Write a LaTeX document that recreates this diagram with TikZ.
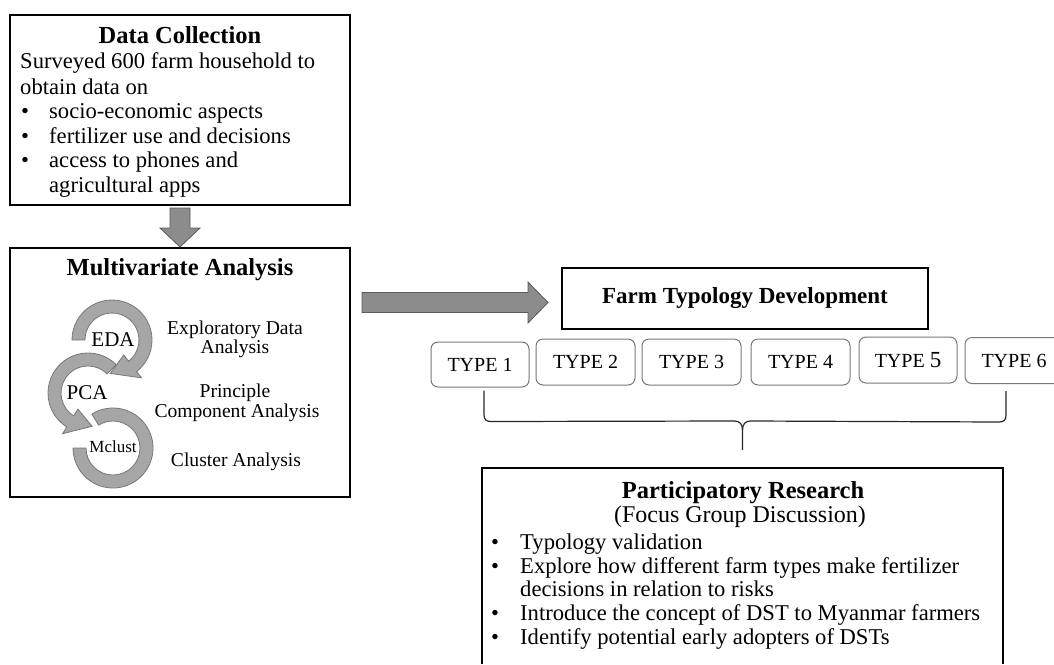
\documentclass[tikz,border=0pt]{standalone}
\usepackage{fontspec}
\setmainfont{Liberation Serif}
\newfontfamily\timesf{Liberation Serif}
\usetikzlibrary{calc}
\definecolor{ringfill}{RGB}{166,166,166}
\definecolor{ringedge}{RGB}{120,120,120}
\definecolor{arrfill}{RGB}{140,140,140}
\definecolor{arredge}{RGB}{90,90,90}
\definecolor{typeedge}{RGB}{120,120,120}
\begin{document}
\begin{tikzpicture}[x=1pt,y=1pt,
  box/.style={draw=black, line width=1.3pt, inner sep=0pt, outer sep=0pt},
  body/.style={font=\fontsize{22.6}{25}\selectfont, inner sep=0pt, anchor=base west},
  bul/.style={font=\fontsize{22.6}{25}\selectfont, inner sep=0pt, anchor=base},
  ttl/.style={font=\bfseries\fontsize{24.5}{26}\selectfont, inner sep=0pt, anchor=base},
  lbl/.style={font=\fontsize{19.6}{21}\selectfont, inner sep=0pt, anchor=base},
  ringtxt/.style={font=\fontsize{21}{23}\selectfont, inner sep=0pt},
  ring/.style={fill=ringfill, draw=ringedge, line width=0.8pt, line join=miter},
  blockarrow/.style={fill=arrfill, draw=arredge, line width=0.8pt},
  typebox/.style={draw=typeedge, rounded corners=7pt, line width=1pt, minimum width=98pt, minimum height=45pt, inner sep=0pt, font=\timesf\fontsize{20}{22}\selectfont},
  brace/.style={draw=black!85, line width=1.2pt}
]
\useasboundingbox (0,0) rectangle (1054,-664);
\clip (0,0) rectangle (1054,-664);

% ---------- Data Collection ----------
\node[box, minimum width=340pt, minimum height=190pt] (dc) at (180,-110) {};
\node[ttl] (dct) at (180,-43) {Data Collection};
\node[body] (dc1) at (20,-68) {Surveyed 600 farm household to};
\node[body] (dc2) at (20,-94) {obtain data on};
\node[bul] (db1) at (25,-118) {\textbullet};
\node[body] (dc3) at (49,-118) {socio-economic aspects};
\node[bul] (db2) at (25,-143) {\textbullet};
\node[body] (dc4) at (49,-143) {fertilizer use and decisions};
\node[bul] (db3) at (25,-167) {\textbullet};
\node[body] (dc5) at (49,-167) {access to phones and};
\node[body] (dc6) at (49,-192) {agricultural apps};

% ---------- Multivariate Analysis ----------
\node[box, minimum width=340pt, minimum height=249pt] (mv) at (180,-372.5) {};
\node[ttl] (mvt) at (180,-275) {Multivariate Analysis};
\node[lbl] (l1) at (235,-334) {Exploratory Data};
\node[lbl] (l2) at (235,-353) {Analysis};
\node[lbl] (l3) at (235,-397) {Principle};
\node[lbl] (l4) at (237,-417) {Component Analysis};
\node[lbl] (l5) at (236,-466) {Cluster Analysis};

% rings
\coordinate (cE) at (112,-340);
\coordinate (cP) at (88,-393);
\coordinate (cM) at (113,-448);
\path[ring] ($(cM)+(122:40)$) arc[start angle=122, end angle=-180, radius=40]
  -- ($(cM)+(-180:27)$) arc[start angle=-180, end angle=122, radius=27] -- cycle;
\path[ring] ($(cP)+(45:40)$) arc[start angle=45, end angle=238, radius=40]
  -- ($(cP)+(238:48)$) -- ($(cP)+(277:33.5)$) -- ($(cP)+(238:19)$)
  -- ($(cP)+(238:27)$) arc[start angle=238, end angle=45, radius=27] -- cycle;
\path[ring] ($(cE)+(180:40)$) arc[start angle=180, end angle=-52, radius=40]
  -- ($(cE)+(-52:48)$) -- ($(cE)+(-93:33.5)$) -- ($(cE)+(-52:19)$)
  -- ($(cE)+(-52:27)$) arc[start angle=-52, end angle=180, radius=27] -- cycle;
\node[ringtxt] (eda) at (113,-340) {EDA};
\node[ringtxt] (pca) at (87,-393) {PCA};
\node[ringtxt, font=\fontsize{17}{19}\selectfont] (mcl) at (113,-447) {Mclust};

% down arrow
\draw[blockarrow] ($(dc.south)+(-10,-3)$) -- ($(dc.south)+(10,-3)$) -- ($(dc.south)+(10,-23)$)
  -- ($(dc.south)+(20,-23)$) -- ($(mv.north)+(0,1)$) -- ($(dc.south)+(-20,-23)$)
  -- ($(dc.south)+(-10,-23)$) -- cycle;

% ---------- Farm Typology ----------
\node[box, minimum width=366pt, minimum height=61pt, font=\timesf\bfseries\fontsize{23}{25}\selectfont] (ft) at (745,-298.5) {Farm Typology Development};

% right arrow
\coordinate (raT) at ($(ft.west)+(-14,-4)$);
\coordinate (raS) at ($(mv.east |- raT)+(12,0)$);
\draw[blockarrow] ($(raS)+(0,10)$) -- ($(raT)+(-20,10)$) -- ($(raT)+(-20,20.5)$) -- (raT)
  -- ($(raT)+(-20,-20.5)$) -- ($(raT)+(-20,-10)$) -- ($(raS)+(0,-10)$) -- cycle;

% types
\node[typebox] (t1) at (480,-364.5) {TYPE 1};
\node[typebox, minimum width=99pt, minimum height=46pt] (t2) at (585.5,-362) {TYPE 2};
\node[typebox, minimum width=99pt, minimum height=46pt] (t3) at (691.5,-362) {TYPE 3};
\node[typebox, minimum width=99pt, minimum height=46pt] (t4) at (800.5,-362) {TYPE 4};
\node[typebox, minimum height=46pt] (t5) at (908,-360) {TYPE {\fontsize{23}{23}\selectfont 5}};
\node[typebox, minimum height=46pt] (t6) at (1014,-360.5) {TYPE 6};

% ---------- Participatory Research ----------
\node[inner sep=0pt, outer sep=0pt, minimum width=521pt, minimum height=196pt] (pr) at (742.5,-566) {};
\draw[line width=1.3pt] (pr.south west) -- (pr.north west) -- (pr.north east) -- (pr.south east);
\node[ttl] (prt) at (743,-498) {Participatory Research};
\node[bul, font=\fontsize{24}{26}\selectfont] (prs) at (740,-522) {(Focus Group Discussion)};
\node[bul] (pb1) at (495,-549) {\textbullet};
\node[body] (p1) at (520,-549) {Typology validation};
\node[bul] (pb2) at (495,-573) {\textbullet};
\node[body] (p2) at (520,-573) {Explore how different farm types make fertilizer};
\node[body] (p3) at (520,-596) {decisions in relation to risks};
\node[bul] (pb3) at (495,-620) {\textbullet};
\node[body] (p4) at (520,-620) {Introduce the concept of DST to Myanmar farmers};
\node[bul] (pb4) at (495,-644) {\textbullet};
\node[body] (p5) at (520,-644) {Identify potential early adopters of DSTs};

% brace
\coordinate (bl) at ($(t1.south)+(4,-3)$);
\coordinate (br) at ($(t6.south)+(-8,-7)$);
\coordinate (bt) at ($(pr.north)+(0,18)$);
\draw[brace] (bl) -- ($(bl)+(0,-24)$) .. controls ($(bl)+(0,-29)$) and ($(bl)+(2,-31)$) .. ($(bl)+(7,-31)$)
  -- ($(bt)+(-8,29)$) .. controls ($(bt)+(-3,29)$) and ($(bt)+(0,26)$) .. ($(bt)+(0,20)$) -- (bt);
\draw[brace] (br) -- ($(br)+(0,-24)$) .. controls ($(br)+(0,-29)$) and ($(br)+(-2,-31)$) .. ($(br)+(-7,-31)$)
  -- ($(bt)+(8,29)$) .. controls ($(bt)+(3,29)$) and ($(bt)+(0,26)$) .. ($(bt)+(0,20)$);
\end{tikzpicture}
\end{document}
